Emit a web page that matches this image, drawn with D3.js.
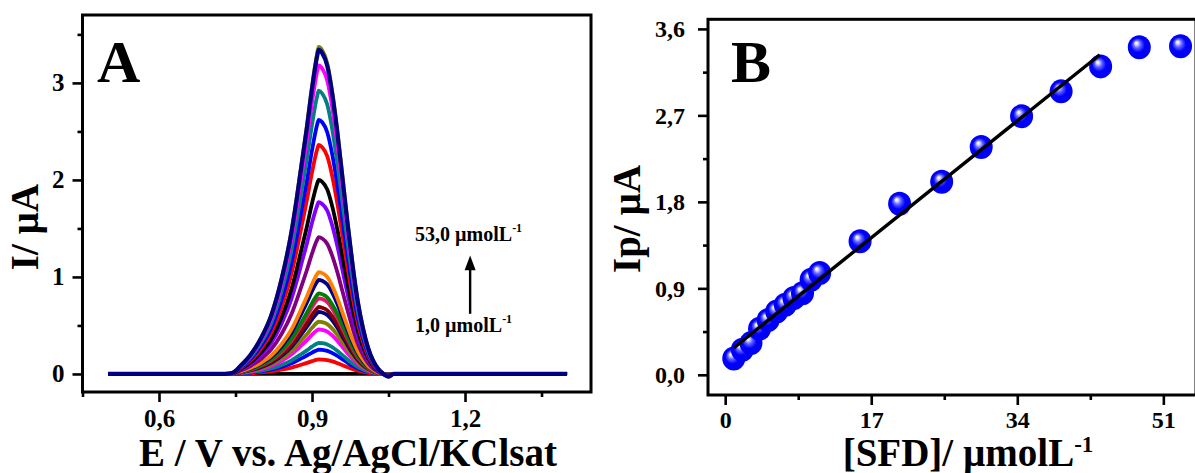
<!DOCTYPE html>
<html>
<head>
<meta charset="utf-8">
<script src="https://cdn.jsdelivr.net/npm/d3@7"></script>
<style>
  body { margin: 0; background: #fff; }
  svg { display: block; }
  text { font-family: "Liberation Serif", "Times New Roman", serif; font-weight: bold; fill: #000; }
</style>
</head>
<body>
<svg id="chart" width="1195" height="473"></svg>
<script>
// ---------- Panel A: DPV curves for increasing SFD concentration ----------
// Normalised peak profile (I / Ip) against potential
const potentials = [0.50, 0.73, 0.745, 0.76, 0.78, 0.80, 0.82, 0.84, 0.86, 0.87, 0.88, 0.89, 0.90,
                    0.91, 0.913, 0.92, 0.93, 0.94, 0.95, 0.96, 0.97, 0.98, 0.99, 1.00, 1.01, 1.02, 1.03,
                    1.04, 1.05, 1.06, 1.07, 1.40];
const peakShape = [0, 0, 0.004, 0.025, 0.06, 0.11, 0.18, 0.29, 0.44, 0.54, 0.65, 0.76, 0.88,
                   0.98, 1.0, 0.99, 0.95, 0.86, 0.74, 0.60, 0.46, 0.33, 0.22, 0.14, 0.08, 0.04, 0.015,
                   0.0, -0.008, 0, 0, 0];
// Peak current of each voltammogram (µA), blank first
const peakCurrents = [0, 0.15, 0.25, 0.32, 0.46, 0.54, 0.64, 0.69, 0.78, 0.83, 0.97, 1.05, 1.41, 1.77,
                      2.00, 2.36, 2.62, 2.92, 3.18, 3.37, 3.34];
const curveColors = ["#000000", "#ff0000", "#0000ff", "#008080", "#ff00ff", "#808000", "#000080",
                     "#800000", "#e8146e", "#008000", "#00008b", "#ff8000", "#800080", "#8000ff",
                     "#000000", "#ff0000", "#0000ff", "#008080", "#ff00ff", "#808000", "#000080"];
const xTicksA = [0.6, 0.9, 1.2];
const xMinorA = [0.45, 0.75, 1.05, 1.35];
const yTicksA = [0, 1, 2, 3];
const yMinorA = [0.5, 1.5, 2.5, 3.5];

// ---------- Panel B: calibration plot ----------
const concentrations = [1, 2, 3, 4, 5, 6, 7, 8, 9, 10, 11, 15.7, 20.3, 25.2, 29.8, 34.5, 39.1, 43.7, 48.2, 53];
const ipValues = [0.17, 0.26, 0.33, 0.48, 0.57, 0.66, 0.73, 0.80, 0.85, 0.99, 1.06, 1.39, 1.78, 2.01,
                  2.37, 2.69, 2.95, 3.21, 3.41, 3.42];
const fitSlope = 0.0716;
const fitIntercept = 0.209;
const fitRange = [1, 43.6];
const xTicksB = [0, 17, 34, 51];
const xMinorB = [8.5, 25.5, 42.5];
const yTicksB = [0, 0.9, 1.8, 2.7, 3.6];
const yMinorB = [0.45, 1.35, 2.25, 3.15];

const commaLocale = d3.formatLocale({ decimal: ",", thousands: ".", grouping: [3], currency: ["", ""] });
const fmt1 = commaLocale.format(".1f");

const svg = d3.select("#chart");

function styleAxis(g, fontSize) {
  g.attr("font-family", null).attr("font-size", null);
  g.select(".domain").remove();
  g.selectAll(".tick line").attr("stroke", "#000").attr("stroke-width", 2.6);
  g.selectAll(".tick text").style("font-size", fontSize + "px");
}

function drawAxes(x, y, opts) {
  const [x0, x1] = x.range();
  const [y0, y1] = y.range();
  const gx = svg.append("g").attr("transform", `translate(0,${y0})`)
    .call(d3.axisBottom(x).tickValues(opts.xTicks).tickFormat(opts.xFormat).tickSize(10).tickPadding(0));
  styleAxis(gx, opts.font);
  gx.selectAll(".tick text").attr("y", opts.xLabelY).attr("dy", 0);
  const gxm = svg.append("g").attr("transform", `translate(0,${y0})`)
    .call(d3.axisBottom(x).tickValues(opts.xMinor).tickFormat("").tickSize(5));
  styleAxis(gxm, opts.font);

  const gy = svg.append("g").attr("transform", `translate(${x0},0)`)
    .call(d3.axisLeft(y).tickValues(opts.yTicks).tickFormat(opts.yFormat).tickSize(10).tickPadding(opts.yPad));
  styleAxis(gy, opts.font);
  const gym = svg.append("g").attr("transform", `translate(${x0},0)`)
    .call(d3.axisLeft(y).tickValues(opts.yMinor).tickFormat("").tickSize(5));
  styleAxis(gym, opts.font);

  svg.append("rect")
    .attr("x", x0).attr("y", y1).attr("width", x1 - x0).attr("height", y0 - y1)
    .attr("fill", "none").attr("stroke", "#000").attr("stroke-width", 3);
}

// ---------- Panel A ----------
const xA = d3.scaleLinear().domain([0.45, 1.447]).range([82.5, 591]);
const yA = d3.scaleLinear().domain([-0.186, 3.70]).range([392, 15]);

svg.append("clipPath").attr("id", "clipA").append("rect")
  .attr("x", 82.5).attr("y", 15).attr("width", 591 - 82.5).attr("height", 392 - 15);

const lineA = d3.line()
  .x(d => xA(d[0]))
  .y(d => yA(d[1]))
  .curve(d3.curveMonotoneX);

const curvesG = svg.append("g").attr("clip-path", "url(#clipA)");
peakCurrents.forEach((ip, i) => {
  const pts = potentials.map((e, k) => [e, ip * peakShape[k]]);
  curvesG.append("path")
    .attr("d", lineA(pts))
    .attr("fill", "none")
    .attr("stroke", curveColors[i])
    .attr("stroke-width", i === peakCurrents.length - 1 ? 4.2 : 3.8)
    .attr("stroke-linejoin", "round");
});

drawAxes(xA, yA, {
  xTicks: xTicksA, xMinor: xMinorA, yTicks: yTicksA, yMinor: yMinorA,
  xFormat: fmt1, yFormat: d3.format("d"), font: 25, xLabelY: 35, yPad: 8
});

// concentration arrow annotation
const arrowE = 1.21;
svg.append("line")
  .attr("x1", xA(arrowE)).attr("x2", xA(arrowE))
  .attr("y1", yA(0.62)).attr("y2", yA(1.10))
  .attr("stroke", "#000").attr("stroke-width", 2.4);
svg.append("path")
  .attr("d", `M${xA(arrowE) - 5.5},${yA(1.07)} L${xA(arrowE) + 5.5},${yA(1.07)} L${xA(arrowE)},${yA(1.22)} Z`)
  .attr("fill", "#000");

function concLabel(text, e, i) {
  const t = svg.append("text").attr("x", xA(e)).attr("y", yA(i)).style("font-size", "20px");
  t.append("tspan").text(text);
  t.append("tspan").text("-1").style("font-size", "12px").attr("dy", -9);
}
concLabel("53,0 µmolL", 1.102, 1.375);
concLabel("1,0 µmolL", 1.102, 0.43);

svg.append("text").attr("x", 97).attr("y", 82).style("font-size", "60px").text("A");

svg.append("text")
  .attr("x", 348).attr("y", 466).attr("text-anchor", "middle")
  .style("font-size", "39px")
  .text("E / V vs. Ag/AgCl/KClsat");

svg.append("text")
  .attr("transform", "translate(38,227) rotate(-90)")
  .attr("text-anchor", "middle")
  .style("font-size", "39px")
  .text("I/ µA");

// ---------- Panel B ----------
const xB = d3.scaleLinear().domain([-2, 54.8]).range([708, 1196]);
const yB = d3.scaleLinear().domain([-0.21, 3.7]).range([395, 19.3]);

drawAxes(xB, yB, {
  xTicks: xTicksB, xMinor: xMinorB, yTicks: yTicksB, yMinor: yMinorB,
  xFormat: d3.format("d"), yFormat: fmt1, font: 24, xLabelY: 33, yPad: 13
});

// sphere shading for the markers
const defs = svg.append("defs");
const grad = defs.append("radialGradient").attr("id", "sphere")
  .attr("cx", "0.5").attr("cy", "0.5").attr("r", "0.55")
  .attr("fx", "0.36").attr("fy", "0.32");
grad.append("stop").attr("offset", "0").attr("stop-color", "#ffffff");
grad.append("stop").attr("offset", "0.1").attr("stop-color", "#e4e4ff");
grad.append("stop").attr("offset", "0.3").attr("stop-color", "#6060ff");
grad.append("stop").attr("offset", "0.55").attr("stop-color", "#0000ff");
grad.append("stop").attr("offset", "1").attr("stop-color", "#0000f2");

const pointsB = concentrations.map((c, i) => ({ c, ip: ipValues[i] }));
svg.append("g").selectAll("ellipse")
  .data(pointsB)
  .join("ellipse")
  .attr("cx", d => xB(d.c))
  .attr("cy", d => yB(d.ip))
  .attr("rx", 11.5)
  .attr("ry", 12)
  .attr("fill", "url(#sphere)");

svg.append("line")
  .attr("x1", xB(fitRange[0])).attr("y1", yB(fitIntercept + fitSlope * fitRange[0]))
  .attr("x2", xB(fitRange[1])).attr("y2", yB(fitIntercept + fitSlope * fitRange[1]))
  .attr("stroke", "#000").attr("stroke-width", 3.4);

svg.append("text").attr("x", 731).attr("y", 82).style("font-size", "60px").text("B");

const tB = svg.append("text")
  .attr("x", 968).attr("y", 466).attr("text-anchor", "middle")
  .style("font-size", "39px");
tB.append("tspan").text("[SFD]/ µmolL");
tB.append("tspan").text("-1").style("font-size", "23px").attr("dy", -14);

svg.append("text")
  .attr("transform", "translate(640,219) rotate(-90)")
  .attr("text-anchor", "middle")
  .style("font-size", "39px")
  .text("Ip/ µA");
</script>
</body>
</html>
